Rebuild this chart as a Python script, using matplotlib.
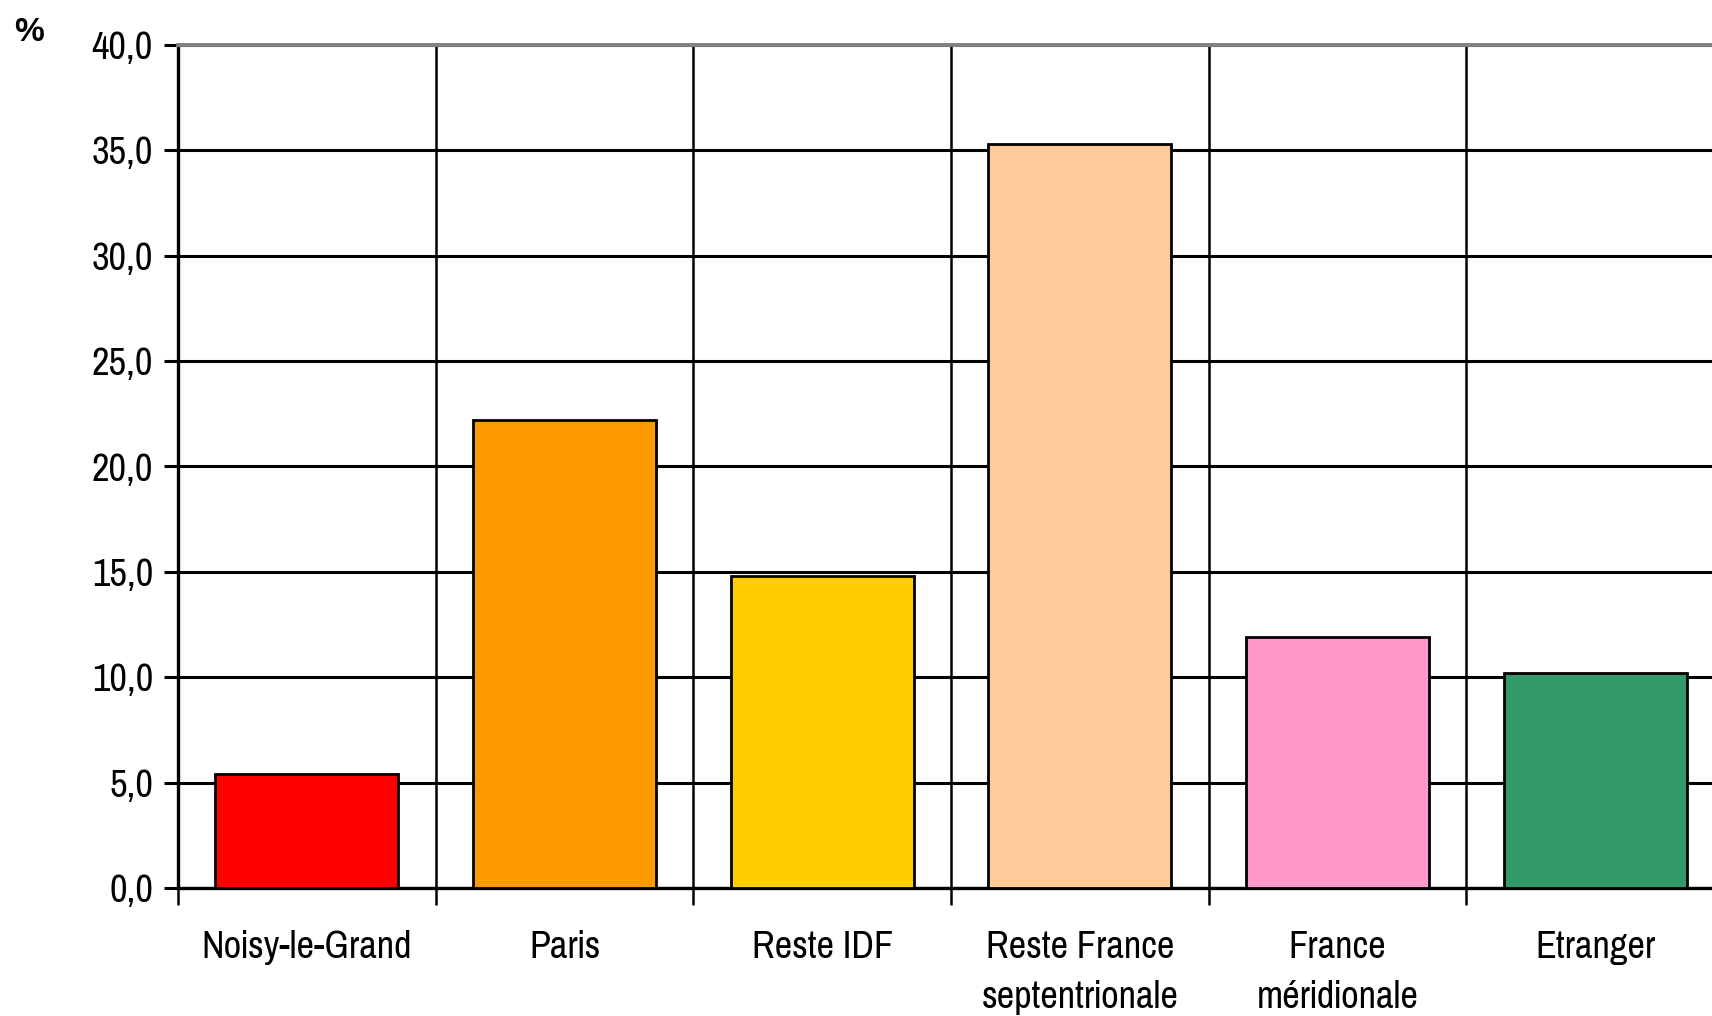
import matplotlib
matplotlib.use("Agg")
import matplotlib.pyplot as plt
import numpy as np
from matplotlib.ticker import FixedLocator, NullFormatter
from matplotlib import font_manager as fm

categories = ["Noisy-le-Grand", "Paris", "Reste IDF", "Reste France\nseptentrionale",
              "France\nméridionale", "Etranger"]
values = [5.4, 22.2, 14.8, 35.3, 11.9, 10.2]
colors = ["#FF0000", "#FF9900", "#FFCC00", "#FFCC99", "#FF99CC", "#339966"]
yticks = [0, 5, 10, 15, 20, 25, 30, 35, 40]
ytick_labels = ["0,0", "5,0", "10,0", "15,0", "20,0", "25,0", "30,0", "35,0", "40,0"]

available = {f.name for f in fm.fontManager.ttflist}
narrow = next((n for n in ["Liberation Sans Narrow", "Arial Narrow", "Pragati Narrow",
                           "Roboto Condensed", "PT Sans Narrow", "Archivo Narrow",
                           "Arimo", "Liberation Sans"] if n in available), "DejaVu Sans")
plt.rcParams['font.family'] = [narrow, 'DejaVu Sans']

fig = plt.figure(figsize=(17.12, 10.16), dpi=100)
ax = fig.add_axes([178/1712, 1 - 888/1016, (1724-178)/1712, (888-45)/1016])

x = np.arange(len(categories))
ax.bar(x, values, width=0.71, color=colors, edgecolor="black", linewidth=2.0, zorder=3)

ax.set_xlim(-0.5, len(categories) - 0.5)
ax.set_ylim(0, 40)

ax.set_yticks(yticks)
ax.set_yticklabels(ytick_labels, fontsize=30)
ax.set_xticks(x)
ax.set_xticklabels(categories, fontsize=30, linespacing=1.55)
ax.xaxis.set_minor_locator(FixedLocator(np.arange(-0.5, len(categories), 1)))
ax.xaxis.set_minor_formatter(NullFormatter())

ax.tick_params(axis='x', which='major', length=0, pad=30)
ax.tick_params(axis='x', which='minor', length=12, width=1.8, color='black', direction='out')
ax.tick_params(axis='y', which='major', length=10, width=2.2, color='black', direction='out', pad=8)

ax.grid(axis='y', which='major', color='black', linewidth=2.2, zorder=0)
ax.grid(axis='x', which='minor', color='black', linewidth=1.8, zorder=0)
ax.set_axisbelow(True)

for s in ['left', 'bottom']:
    ax.spines[s].set_color('black')
    ax.spines[s].set_linewidth(2.4)
ax.spines['top'].set_color('#808080')
ax.spines['top'].set_linewidth(2.8)
ax.spines['top'].set_zorder(4)
ax.spines['right'].set_visible(False)

fig.text(29/1712, 1 - 33/1016, "%", fontsize=24, fontweight='bold', ha='center', va='center',
         family=['Liberation Sans', 'DejaVu Sans'])

fig.savefig("out.png", dpi=100)
